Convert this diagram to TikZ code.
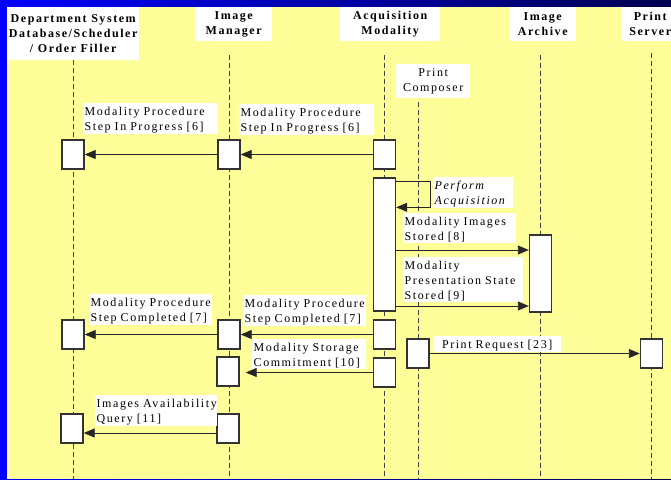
\documentclass[tikz,border=0pt]{standalone}
\usepackage{fontspec}
\setmainfont{Liberation Serif}
\newfontfamily\diafont[LetterSpace=13]{Liberation Serif}
\usepackage{tikz}
\usetikzlibrary{arrows.meta, backgrounds}
\definecolor{slideblue}{RGB}{0,0,255}
\definecolor{slidenavy}{RGB}{0,0,80}
\definecolor{panel}{RGB}{255,255,153}
\tikzset{
    head/.style={rectangle, fill=white, inner sep=0pt, anchor=north west, align=center, minimum height=34pt, font=\diafont\bfseries\fontsize{12}{15.3}\selectfont},
    lbl/.style={rectangle, fill=white, inner xsep=1.5pt, inner ysep=1.5pt, anchor=north west, align=left, text height=10.5pt, font=\diafont\fontsize{12}{15}\selectfont},
    act/.style={rectangle, draw=black!80, fill=white, line width=1.4pt, minimum width=22pt, minimum height=29pt, inner sep=0pt},
    life/.style={black!75, line width=0.9pt, dash pattern=on 5pt off 3pt},
    msg/.style={black!85, line width=0.9pt, -{Triangle[length=11pt,width=9pt]}},
}

\begin{document}
\begin{tikzpicture}[x=1pt, y=-1pt]
  \path[use as bounding box, clip] (0,0) rectangle (671,479);
  \coordinate (bot) at (0,479);

  % headers
  \node[head, minimum width=132pt, minimum height=53pt] (hdDS) at (7,7) {Department System\\Database/Scheduler\\/ Order Filler};
  \node[head, minimum width=77pt]  (hdIM) at (195,7) {Image\\Manager};
  \node[head, minimum width=100pt] (hdAM) at (340,7) {Acquisition\\Modality};
  \node[head, minimum width=67pt]  (hdIA) at (509,7) {Image\\Archive};
  \node[head, minimum width=58pt]  (hdPS) at (621,7) {Print\\Server};
  \node[head, minimum width=74pt, font=\diafont\fontsize{12}{15.3}\selectfont] (hdPC) at (396,64) {Print\\Composer};

  % activations
  \node[act] (d1) at (73,154.5) {};
  \node[act] (m1) at (229,154.5) {};
  \node[act] (a1) at (384.5,154.5) {};
  \node[act, minimum height=133pt] (a2) at (384.5,244.5) {};
  \node[act, minimum height=77pt]  (r1) at (540.5,273.5) {};
  \node[act] (a3) at (384.5,334.5) {};
  \node[act] (m2) at (229,334.5) {};
  \node[act] (d2) at (73,334.5) {};
  \node[act] (p1) at (418,353.5) {};
  \node[act] (s1) at (651.5,353.5) {};
  \node[act] (a4) at (384.5,372.5) {};
  \node[act] (m3) at (228,371.5) {};
  \node[act] (m4) at (228,428.5) {};
  \node[act] (d3) at (72,428.5) {};

  % message labels
  \node[lbl, text width=132pt] (lDS6) at (83,103) {Modality Procedure\\Step In Progress [6]};
  \node[lbl, text width=132pt] (lIM6) at (239,104) {Modality Procedure\\Step In Progress [6]};
  \node[lbl, text width=77pt, font=\diafont\itshape\fontsize{12}{15}\selectfont] (lAcq) at (433,177) {Perform\\Acquisition};
  \node[lbl, text width=110pt] (lImg) at (403,213) {Modality Images\\Stored [8]};
  \node[lbl, text width=117pt] (lPS) at (403,257) {Modality\\Presentation State\\Stored [9]};
  \node[lbl, text width=120pt] (lDS7) at (89,294) {Modality Procedure\\Step Completed [7]};
  \node[lbl, text width=120pt] (lIM7) at (243,295) {Modality Procedure\\Step Completed [7]};
  \node[lbl, text width=125pt, align=center] (lPR) at (433,336) {Print Request [23]};
  \node[lbl, text width=111pt] (lSC) at (252,339) {Modality Storage\\Commitment [10]};
  \node[lbl, text width=119pt] (lQ) at (95,395) {Images Availability\\Query [11]};

  % messages
  \draw[msg] (a1.west) -- (m1.east);
  \draw[msg] (m1.west) -- (d1.east);
  \draw[msg] ([yshift=-4pt]a2.north east) -- ++(34,0) -- ++(0,26) -- ++(-34,0);
  \coordinate (s8) at ([yshift=23.5pt]r1.west);
  \coordinate (s9) at ([yshift=-32.5pt]r1.west);
  \draw[msg] (a2.east |- s8) -- (s8);
  \draw[msg] (a2.east |- s9) -- (s9);
  \draw[msg] (a3.west) -- (m2.east);
  \draw[msg] (m2.west) -- (d2.east);
  \draw[msg] (p1.east) -- (s1.west);
  \draw[msg, shorten >=6pt] (a4.west) -- (a4.west -| m3.east);
  \coordinate (q11) at ([yshift=-4.5pt]m4.west);
  \draw[msg] (q11) -- (q11 -| d3.east);

  \begin{scope}[on background layer]
    \shade[left color=slideblue, right color=slidenavy] (0,0) rectangle (671,479);
    \fill[panel] (7,7) rectangle (671,479);
    % lifelines
    \draw[life] (hdDS.south -| d1) -- (d1 |- bot);
    \draw[life] (hdIM.south -| m1) ++(0,14) -- (m1 |- bot);
    \draw[life] (hdAM.south -| a1) ++(0,14) -- (a1 |- bot);
    \draw[life] (hdPC.south -| p1) ++(0,4) -- (p1 |- bot);
    \draw[life] (hdIA.south -| r1) ++(0,14) -- (r1 |- bot);
    \draw[life] (hdPS.south -| s1) ++(0,12) -- (s1 |- bot);
  \end{scope}
\end{tikzpicture}
\end{document}
